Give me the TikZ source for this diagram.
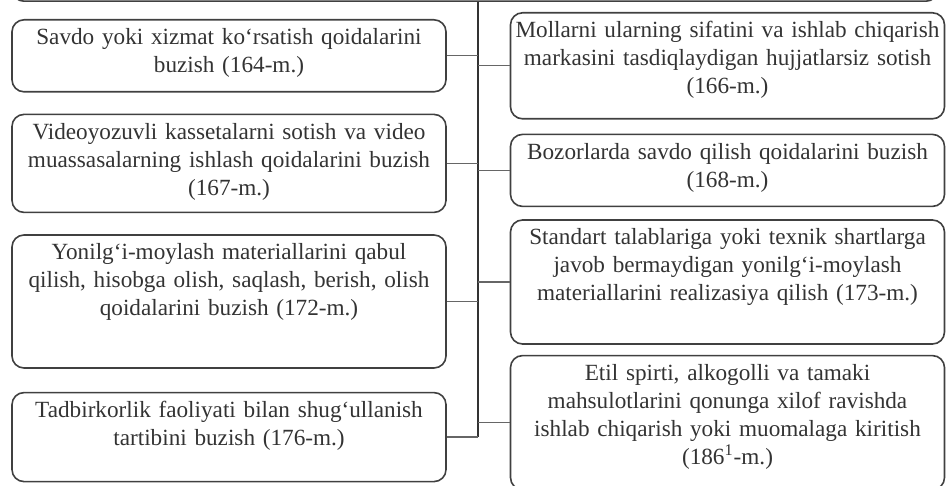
\documentclass[tikz,border=0pt]{standalone}
\usepackage{fontspec}
\setmainfont{Liberation Serif}
\usepackage{tikz}
\usetikzlibrary{positioning}

\begin{document}
\begin{tikzpicture}[
        x=0.5pt,
        y=-0.5pt,
        every node/.style={font=\fontsize{11.6}{14}\selectfont, text=black!80},
        main/.style={
            rectangle,
            rounded corners=6pt,
            draw=black!75,
            line width=0.8pt,
            minimum width=463pt,
            minimum height=40pt
        },
        sub/.style={
            rectangle,
            rounded corners=6pt,
            draw=black!75,
            line width=0.8pt,
            align=center,
            text width=223pt,
            inner xsep=-3pt,
            inner ysep=2.5pt,
            text height=10pt
        },
        link/.style={
            draw=black!60,
            line width=0.7pt
        }
    ]

    \useasboundingbox (0,0) rectangle (948,486);
    \clip (0,0) rectangle (948,486);

    % main node (cut off)
    \node[main, anchor=south] (asosiy) at (475,2) {};
    \coordinate (spine) at (478,0);

    % left column
    \node[sub, anchor=north, text depth=21pt] (savdo) at (229,19)
    {Savdo yoki xizmat ko‘rsatish qoidalarini\\
     buzish (164-m.)};

    \node[sub, below=10.5pt of savdo, text depth=34pt] (video)
    {Videoyozuvli kassetalarni sotish va video\\
     muassasalarning ishlash qoidalarini buzish\\
     (167-m.)};

    \node[sub, below=10.5pt of video, text depth=51.5pt] (yonilgi)
    {Yonilg‘i-moylash materiallarini qabul\\
     qilish, hisobga olish, saqlash, berish, olish\\
     qoidalarini buzish (172-m.)};

    \node[sub, below=11.5pt of yonilgi, text depth=29.5pt] (tadbir)
    {Tadbirkorlik faoliyati bilan shug‘ullanish\\
     tartibini buzish (176-m.)};

    % right column
    \node[sub, anchor=north, text depth=38pt] (mollar) at (727.5,12)
    {Mollarni ularning sifatini va ishlab chiqarish\\
     markasini tasdiqlaydigan hujjatlarsiz sotish\\
     (166-m.)};

    \node[sub, below=7pt of mollar, text depth=21pt] (bozor)
    {Bozorlarda savdo qilish qoidalarini buzish\\
     (168-m.)};

    \node[sub, below=6pt of bozor, text depth=47pt] (standart)
    {Standart talablariga yoki texnik shartlarga\\
     javob bermaydigan yonilg‘i-moylash\\
     materiallarini realizasiya qilish (173-m.)};

    \node[sub, below=5pt of standart, text depth=52pt] (etil)
    {Etil spirti, alkogolli va tamaki\\
     mahsulotlarini qonunga xilof ravishda\\
     ishlab chiqarish yoki muomalaga kiritish\\
     (186\textsuperscript{1}-m.)};

    % lines
    \draw[link, draw=black!80] (spine |- asosiy.south) -- (spine |- tadbir.east);
    \draw[link] (savdo.east) -- (spine |- savdo.east);
    \draw[link] (video.east) -- (spine |- video.east);
    \draw[link] (yonilgi.east) -- (spine |- yonilgi.east);
    \draw[link] (tadbir.east) -- (spine |- tadbir.east);
    \draw[link] (spine |- mollar.west) -- (mollar.west);
    \draw[link] (spine |- bozor.west) -- (bozor.west);
    \draw[link] (spine |- standart.west) -- (standart.west);
    \draw[link] (spine |- etil.west) -- (etil.west);

\end{tikzpicture}
\end{document}
